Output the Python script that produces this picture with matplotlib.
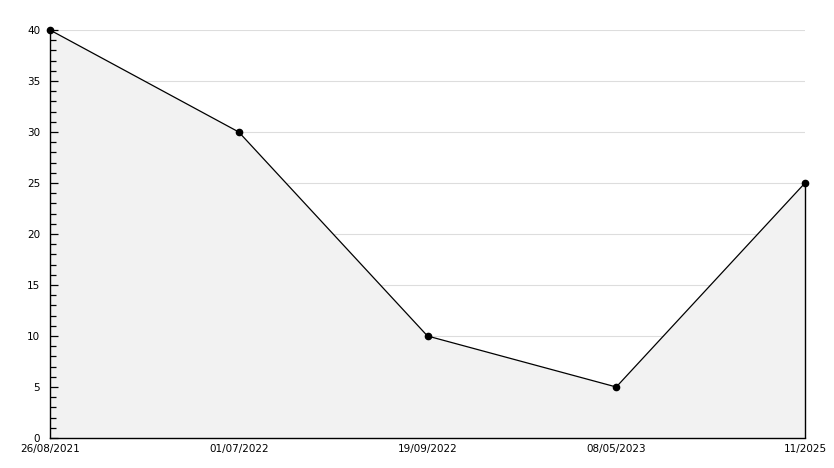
import matplotlib
matplotlib.use("Agg")
from matplotlib import pyplot as plt
from matplotlib.ticker import MultipleLocator

# data
labels = ["26/08/2021", "01/07/2022", "19/09/2022", "08/05/2023", "11/2025"]
values = [40, 30, 10, 5, 25]

W, H = 834, 468
fig = plt.figure(figsize=(W / 100, H / 100), dpi=100)
ax = fig.add_axes([50 / W, 1 - 438 / H, (805 - 50) / W, (438 - 30) / H])

x = list(range(len(values)))

ax.set_xlim(x[0], x[-1])
ax.set_ylim(0, 40)
ax.yaxis.set_major_locator(MultipleLocator(5))
ax.yaxis.set_minor_locator(MultipleLocator(1))
ax.set_xticks(x)
ax.set_xticklabels(labels)

# grid lines sit under the filled area
for yv in ax.get_yticks():
    if 0 < yv <= 40:
        ax.axhline(yv, color="#dddddd", lw=0.8, zorder=0)

ax.fill_between(x, values, 0, color="#f2f2f2", lw=0, zorder=1)
ax.vlines(x[-1], 0, values[-1], color="black", lw=1.0, zorder=2, clip_on=False)
ax.plot(x, values, color="black", lw=0.9, marker="o", ms=4.5, zorder=3,
        clip_on=False)

ax.set_axisbelow(False)

for s in ["top", "right"]:
    ax.spines[s].set_visible(False)
ax.spines["left"].set_linewidth(1.0)
ax.spines["bottom"].set_linewidth(1.0)

ax.tick_params(axis="y", which="major", direction="in", length=5.5, width=0.9,
               labelsize=7.5, pad=7, color="black")
ax.tick_params(axis="y", which="minor", direction="in", length=4, width=0.9,
               color="black")
ax.tick_params(axis="x", which="major", length=0, labelsize=7.5, pad=4)

fig.savefig("out.png", dpi=100)
